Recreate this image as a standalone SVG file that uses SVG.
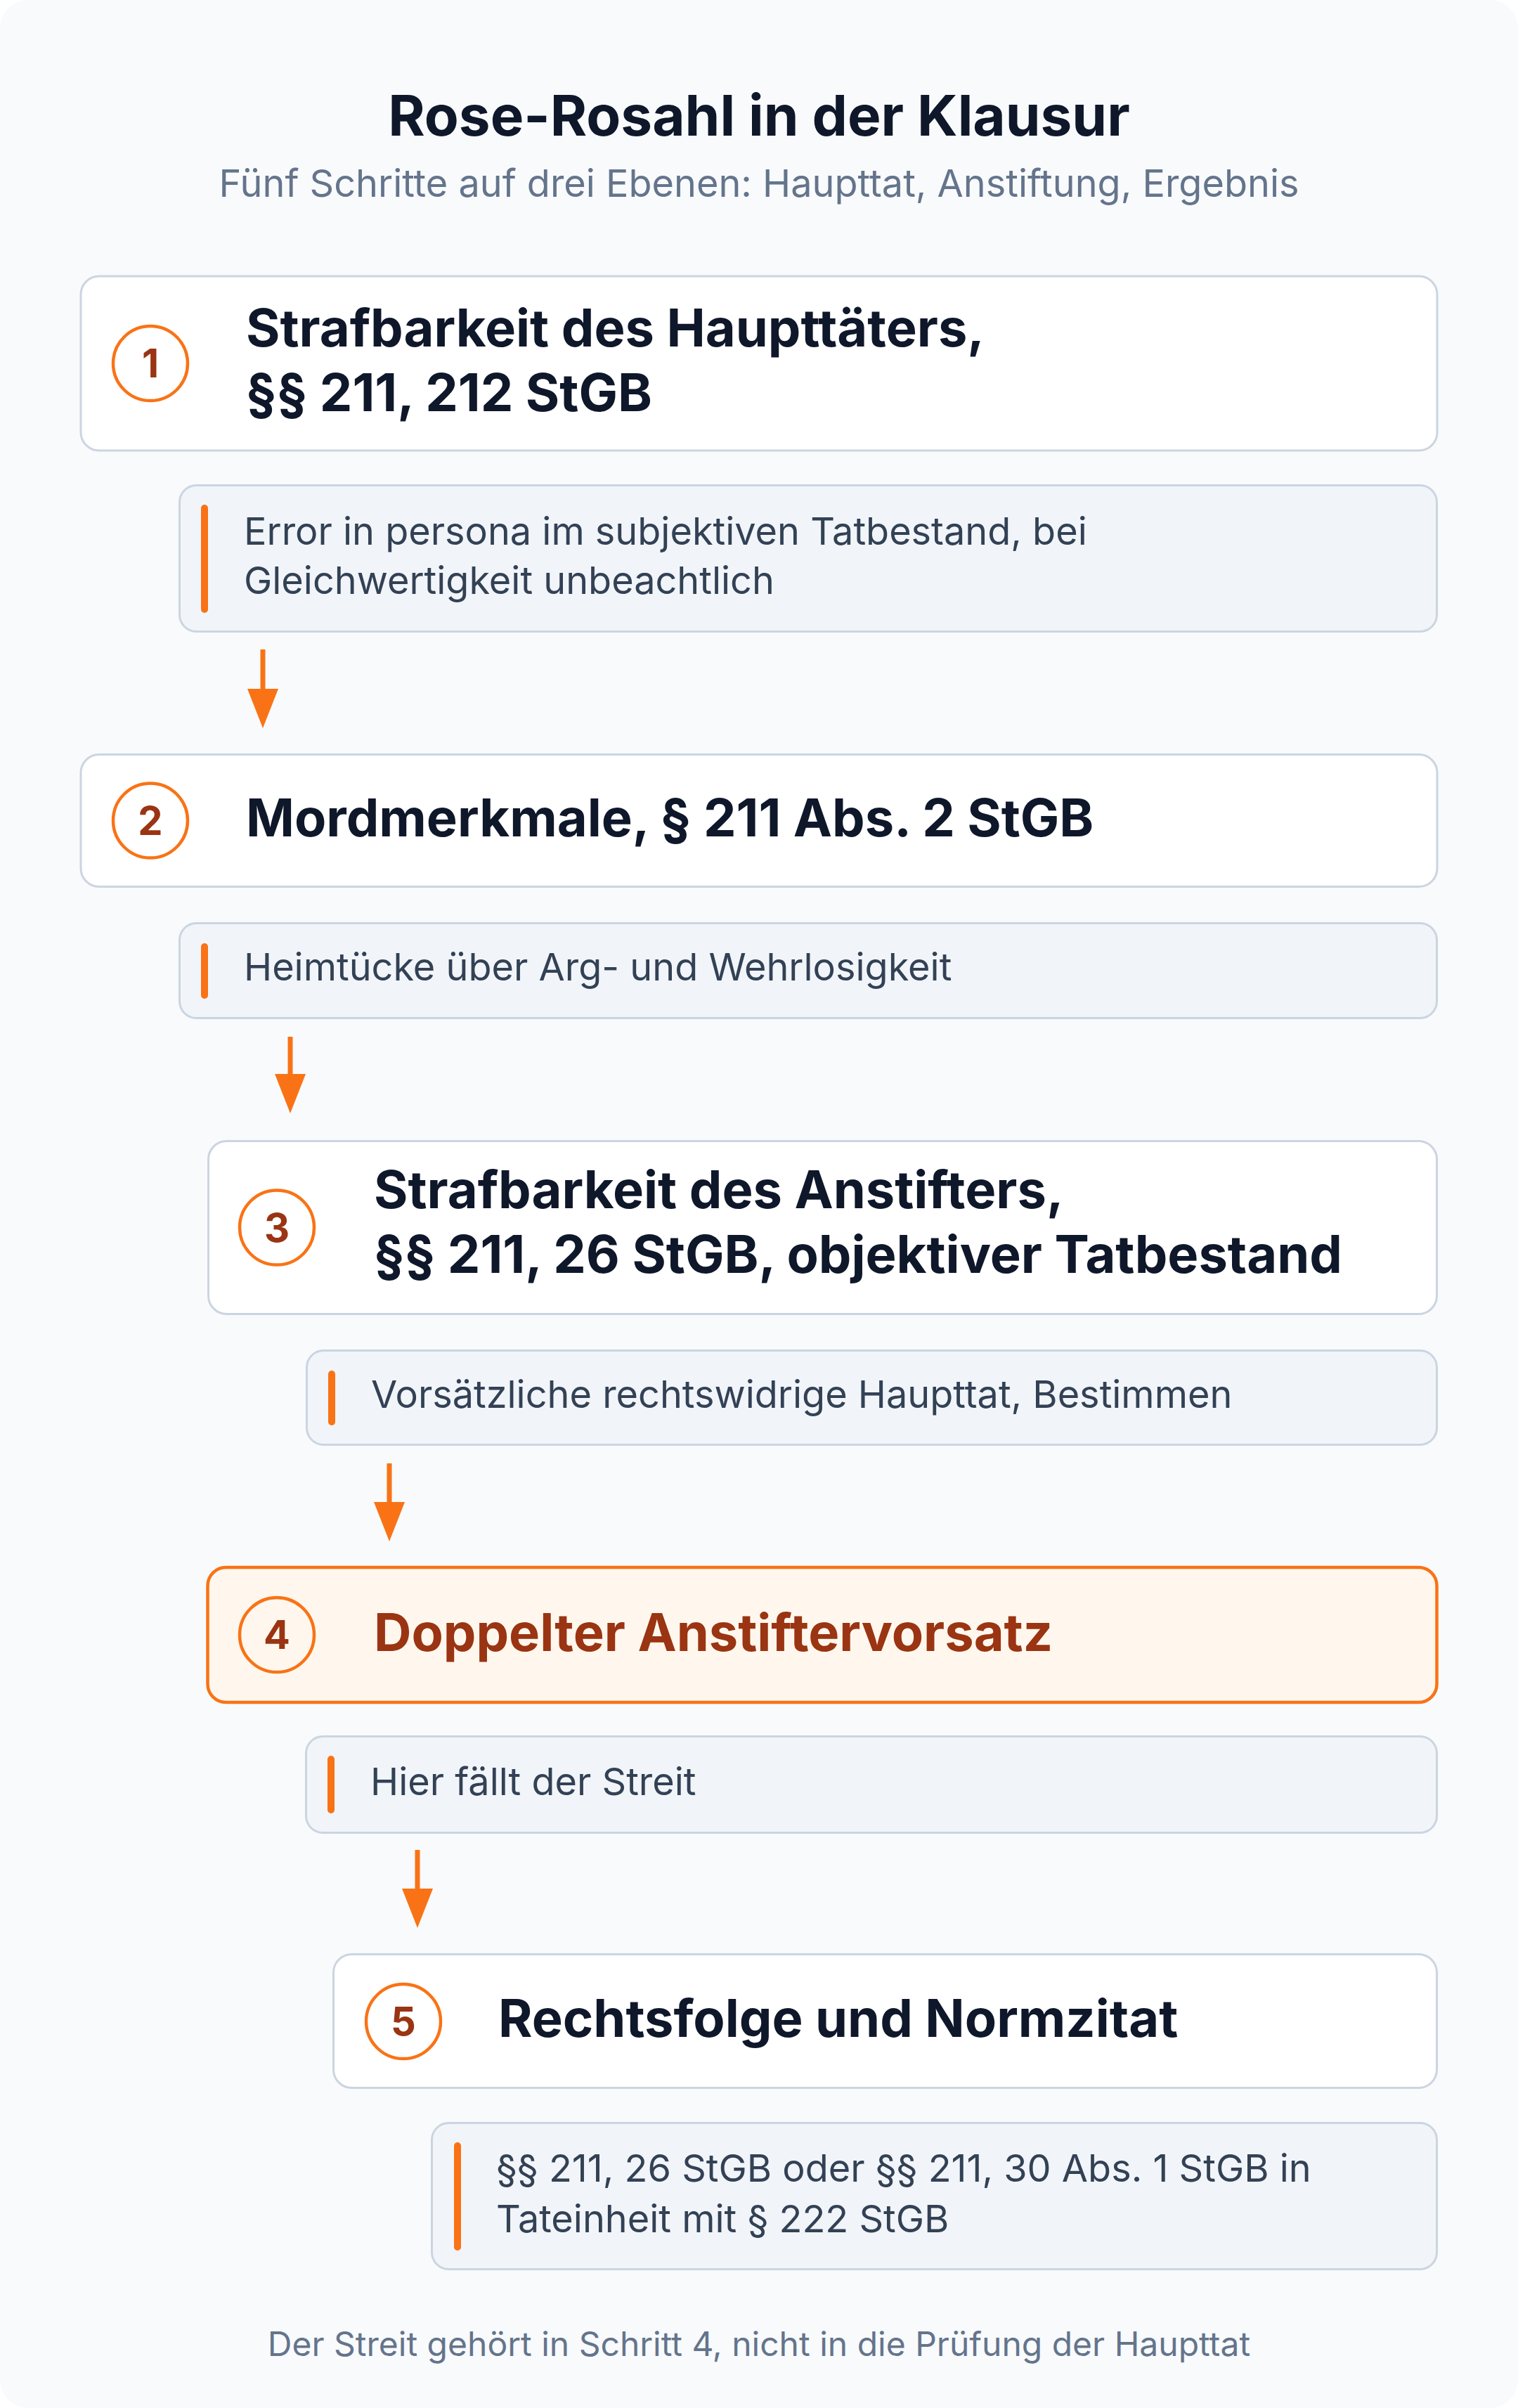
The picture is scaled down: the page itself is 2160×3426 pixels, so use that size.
<svg xmlns="http://www.w3.org/2000/svg" width="2160" height="3426" viewBox="0 0 2160 3426">
  <defs>
    <style>
      .bg { fill: #f8fafc; }
      .node { fill: #ffffff; stroke: #cbd5e1; stroke-width: 3; }
      .node-hl { fill: #fff7ed; stroke: #f97316; stroke-width: 4.5; }
      .note { fill: #f1f5f9; stroke: #cbd5e1; stroke-width: 3; }
      .bar { fill: #f97316; }
      .badge { fill: none; stroke: #f97316; stroke-width: 4.5; }
      .num { font-family: Inter, "Liberation Sans", sans-serif; font-weight: 700; font-size: 56px; fill: #9a3412; text-anchor: middle; }
      .ttl { font-family: Inter, "Liberation Sans", sans-serif; font-weight: 700; font-size: 74px; fill: #0f172a; }
      .ttl-hl { fill: #9a3412; }
      .txt { font-family: Inter, "Liberation Sans", sans-serif; font-weight: 400; font-size: 54px; fill: #334155; }
      .head { font-family: Inter, "Liberation Sans", sans-serif; font-weight: 700; font-size: 80px; fill: #0f172a; text-anchor: middle; }
      .sub { font-family: Inter, "Liberation Sans", sans-serif; font-weight: 400; font-size: 54px; fill: #64748b; text-anchor: middle; }
      .foot { font-family: Inter, "Liberation Sans", sans-serif; font-weight: 400; font-size: 48px; fill: #64748b; text-anchor: middle; }
      .conn { stroke: #f97316; stroke-width: 7; fill: none; }
      .arrowhead { fill: #f97316; }
    </style>
  </defs>

  <rect x="0" y="0" width="2160" height="3426" fill="#ffffff"/>
  <rect class="bg" x="0" y="0" width="2160" height="3426" rx="40"/>

  <g id="header">
    <text class="head" x="1080" y="193">Rose-Rosahl in der Klausur</text>
    <text class="sub" x="1080" y="280">Fünf Schritte auf drei Ebenen: Haupttat, Anstiftung, Ergebnis</text>
  </g>

  <g id="node1">
    <rect class="node" x="115" y="393" width="1930" height="248" rx="26"/>
    <circle class="badge" cx="214" cy="517" r="53"/>
    <text class="num" x="214" y="537">1</text>
    <text class="ttl" x="350" y="493">Strafbarkeit des Haupttäters,</text>
    <text class="ttl" x="350" y="585">§§ 211, 212 StGB</text>
  </g>
  <g id="note1">
    <rect class="note" x="255.5" y="690.5" width="1789" height="208" rx="24"/>
    <rect class="bar" x="286" y="718" width="10" height="154" rx="5"/>
    <text class="txt" x="347" y="775">Error in persona im subjektiven Tatbestand, bei</text>
    <text class="txt" x="347" y="845">Gleichwertigkeit unbeachtlich</text>
  </g>

  <g id="node2">
    <rect class="node" x="115" y="1073.5" width="1930" height="188" rx="26"/>
    <circle class="badge" cx="214" cy="1167.5" r="53"/>
    <text class="num" x="214" y="1187.5">2</text>
    <text class="ttl" x="350" y="1190">Mordmerkmale, § 211 Abs. 2 StGB</text>
  </g>
  <g id="note2">
    <rect class="note" x="255.5" y="1313.5" width="1789" height="135" rx="24"/>
    <rect class="bar" x="286" y="1342" width="10" height="79" rx="5"/>
    <text class="txt" x="347" y="1395">Heimtücke über Arg- und Wehrlosigkeit</text>
  </g>

  <g id="node3">
    <rect class="node" x="296.5" y="1623.5" width="1748" height="246" rx="26"/>
    <circle class="badge" cx="394" cy="1746.5" r="53"/>
    <text class="num" x="394" y="1766.5">3</text>
    <text class="ttl" x="532" y="1719">Strafbarkeit des Anstifters,</text>
    <text class="ttl" x="532" y="1811">§§ 211, 26 StGB, objektiver Tatbestand</text>
  </g>
  <g id="note3">
    <rect class="note" x="436.5" y="1921.5" width="1608" height="134" rx="24"/>
    <rect class="bar" x="467" y="1950" width="10" height="78" rx="5"/>
    <text class="txt" x="528" y="2003">Vorsätzliche rechtswidrige Haupttat, Bestimmen</text>
  </g>

  <g id="node4">
    <rect class="node-hl" x="295.5" y="2230" width="1749" height="192" rx="26"/>
    <circle class="badge" cx="394" cy="2326" r="53"/>
    <text class="num" x="394" y="2346">4</text>
    <text class="ttl ttl-hl" x="532" y="2349">Doppelter Anstiftervorsatz</text>
  </g>
  <g id="note4">
    <rect class="note" x="435.5" y="2470.5" width="1609" height="137" rx="24"/>
    <rect class="bar" x="466" y="2498" width="10" height="82" rx="5"/>
    <text class="txt" x="527" y="2554">Hier fällt der Streit</text>
  </g>

  <g id="node5">
    <rect class="node" x="474.5" y="2780.5" width="1570" height="190" rx="26"/>
    <circle class="badge" cx="574" cy="2876" r="53"/>
    <text class="num" x="574" y="2896">5</text>
    <text class="ttl" x="709" y="2898">Rechtsfolge und Normzitat</text>
  </g>
  <g id="note5">
    <rect class="note" x="614.5" y="3020.5" width="1430" height="208" rx="24"/>
    <rect class="bar" x="646" y="3048" width="10" height="154" rx="5"/>
    <text class="txt" x="706" y="3104">§§ 211, 26 StGB oder §§ 211, 30 Abs. 1 StGB in</text>
    <text class="txt" x="706" y="3176">Tateinheit mit § 222 StGB</text>
  </g>

  <g id="connectors">
    <line class="conn" x1="374" y1="924" x2="374" y2="984"/>
    <polygon class="arrowhead" points="352,980 396,980 374,1036"/>
    <line class="conn" x1="413" y1="1475" x2="413" y2="1532"/>
    <polygon class="arrowhead" points="391,1528 435,1528 413,1584"/>
    <line class="conn" x1="554" y1="2082" x2="554" y2="2141"/>
    <polygon class="arrowhead" points="532,2137 576,2137 554,2193"/>
    <line class="conn" x1="594" y1="2632" x2="594" y2="2691"/>
    <polygon class="arrowhead" points="572,2687 616,2687 594,2743"/>
  </g>

  <g id="footer">
    <text class="foot" x="1080" y="3352">Der Streit gehört in Schritt 4, nicht in die Prüfung der Haupttat</text>
  </g>
</svg>
